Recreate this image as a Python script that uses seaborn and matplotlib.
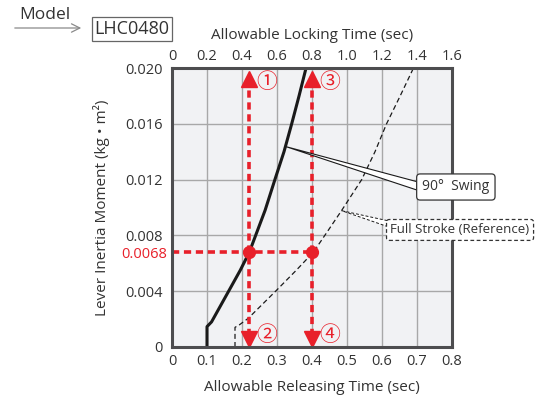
import numpy as np
import pandas as pd
import matplotlib
matplotlib.use("Agg")
import matplotlib.pyplot as plt
from matplotlib.patches import Polygon
import seaborn as sns

# --- data ---
swing_x = [0.100, 0.100, 0.113, 0.164, 0.195, 0.221, 0.242, 0.266, 0.294, 0.320, 0.342, 0.363, 0.383]
swing_y = [0.0, 0.00146, 0.0018, 0.0041, 0.0055, 0.0068, 0.0082, 0.0098, 0.0120, 0.0140, 0.0160, 0.0180, 0.0200]
full_x = [0.180, 0.180, 0.192, 0.218, 0.300, 0.355, 0.404, 0.442, 0.485, 0.542, 0.580, 0.613, 0.652, 0.690]
full_y = [0.0, 0.00141, 0.00158, 0.00206, 0.0041, 0.0055, 0.0068, 0.0082, 0.0098, 0.0120, 0.0140, 0.0160, 0.0180, 0.0200]

example_moment = 0.0068
example_release = [0.22, 0.40]     # (2), (4)
xticks_bottom = [0, 0.1, 0.2, 0.3, 0.4, 0.5, 0.6, 0.7, 0.8]
xticks_top = [0, 0.2, 0.4, 0.6, 0.8, 1.0, 1.2, 1.4, 1.6]
yticks = [0, 0.004, 0.008, 0.012, 0.016, 0.020]
ytick_labels = ["0", "0.004", "0.008", "0.012", "0.016", "0.020"]

RED = "#e8202a"
FRAME = "#4d4d4f"

sns.set_style("white")
plt.rcParams["font.family"] = ["Open Sans", "DejaVu Sans"]

fig = plt.figure(figsize=(5.37, 4.03), dpi=100)
ax = fig.add_axes([172 / 537, 1 - 347 / 403, 280 / 537, 279 / 403])
ax.set_facecolor("#f1f2f4")

df_s = pd.DataFrame({"x": swing_x, "y": swing_y})
df_f = pd.DataFrame({"x": full_x, "y": full_y})
sns.lineplot(data=df_s, x="x", y="y", sort=False, estimator=None, color="#1a1a1a",
             lw=2.2, ax=ax, zorder=4)
sns.lineplot(data=df_f, x="x", y="y", sort=False, estimator=None, color="#1a1a1a",
             lw=0.9, ax=ax, zorder=4, linestyle=(0, (4, 2.5)))

ax.set_xlim(0, 0.8)
ax.set_ylim(0, 0.020)
ax.set_xticks(xticks_bottom)
ax.set_xticklabels(["0"] + [f"{v:.1f}" for v in xticks_bottom[1:]])
ax.set_yticks(yticks)
ax.set_yticklabels(ytick_labels)
ax.set_yticks([example_moment], minor=True)
ax.set_yticklabels([f"{example_moment}"], minor=True, color=RED)
ax.tick_params(axis="both", which="both", length=0, labelsize=10.5, colors="#333333")
ax.tick_params(axis="x", pad=5)
ax.tick_params(axis="y", pad=7)
for lab in ax.get_yticklabels(minor=True):
    lab.set_color(RED)
ax.grid(True, which="major", color="#a8a8a8", lw=1.0)
ax.set_axisbelow(True)
for sp in ax.spines.values():
    sp.set_color(FRAME)
    sp.set_linewidth(2.2)
    sp.set_zorder(6)

ax.set_xlabel("Allowable Releasing Time (sec)", fontsize=11, color="#333333", labelpad=8)
ax.set_ylabel("Lever Inertia Moment (kg • m²)", fontsize=11, color="#333333", labelpad=8)

top = ax.secondary_xaxis("top", functions=(lambda v: v * 2, lambda v: v / 2))
top.set_xticks(xticks_top)
top.set_xticklabels(["0"] + [f"{v:.1f}" for v in xticks_top[1:]])
top.tick_params(length=0, labelsize=10.5, colors="#333333", pad=3)
top.spines["top"].set_visible(False)
top.set_xlabel("Allowable Locking Time (sec)", fontsize=11, color="#333333", labelpad=7)

# red guide lines
dash = (0, (2, 1.3))
ax.plot([0, example_release[1]], [example_moment, example_moment], color=RED, lw=2.6,
        linestyle=dash, zorder=5)
for xr in example_release:
    ax.plot([xr, xr], [0.0008, 0.0186], color=RED, lw=2.6, linestyle=dash, zorder=5)
    ax.plot([xr], [0.0192], marker="^", ms=11, color=RED, mec=RED, zorder=5)
    ax.plot([xr], [0.0006], marker="v", ms=11, color=RED, mec=RED, zorder=5)
ax.plot(example_release, [example_moment] * 2, "o", ms=8.5, color=RED, zorder=6)

circ = ["Noto Sans CJK JP", "DejaVu Sans"]
labels = [("①", 0, 0.0190), ("②", 0, 0.00086), ("③", 1, 0.0190), ("④", 1, 0.00086)]
for txt, i, yy in labels:
    ax.text(example_release[i] + 0.052, yy, txt, color=RED, fontsize=15, family=circ,
            ha="center", va="center", zorder=6)

# callouts
ax.add_patch(Polygon([(0.326, 0.01436), (0.70, 0.01185), (0.70, 0.01125)], closed=True,
                     facecolor="white", edgecolor="#1a1a1a", lw=0.8, clip_on=False, zorder=7))
ax.text(0.811, 0.01147, "90°  Swing", fontsize=10, ha="center", va="center", color="#333333",
        zorder=8, clip_on=False,
        bbox=dict(boxstyle="round,pad=0.4,rounding_size=0.25", fc="white", ec="#333333", lw=0.9))
ax.add_patch(Polygon([(0.485, 0.00977), (0.63, 0.00898), (0.63, 0.00851)], closed=True,
                     facecolor="white", edgecolor="#1a1a1a", lw=0.7, linestyle=(0, (3, 2)),
                     clip_on=False, zorder=7))
ax.text(0.823, 0.00839, "Full Stroke (Reference)", fontsize=9.5, ha="center", va="center",
        color="#333333", zorder=8, clip_on=False,
        bbox=dict(boxstyle="round,pad=0.3,rounding_size=0.2", fc="white", ec="#333333",
                  lw=0.9, linestyle=(0, (3, 2))))

# model header
fig.text(45 / 537, 1 - 15 / 403, "Model", fontsize=12.5, ha="center", va="center", color="#333333")
fig.patches.append(matplotlib.patches.FancyArrowPatch(
    (12 / 537, 1 - 28 / 403), (84 / 537, 1 - 28 / 403), transform=fig.transFigure,
    arrowstyle="->,head_length=6,head_width=3", color="#8a8a8a", lw=0.9))
fig.text(132 / 537, 1 - 29 / 403, "LHC0480", fontsize=13, ha="center", va="center",
         color="#333333",
         bbox=dict(boxstyle="square,pad=0.15", fc="white", ec="#666666", lw=0.9))

fig.savefig("out.png", dpi=100)
